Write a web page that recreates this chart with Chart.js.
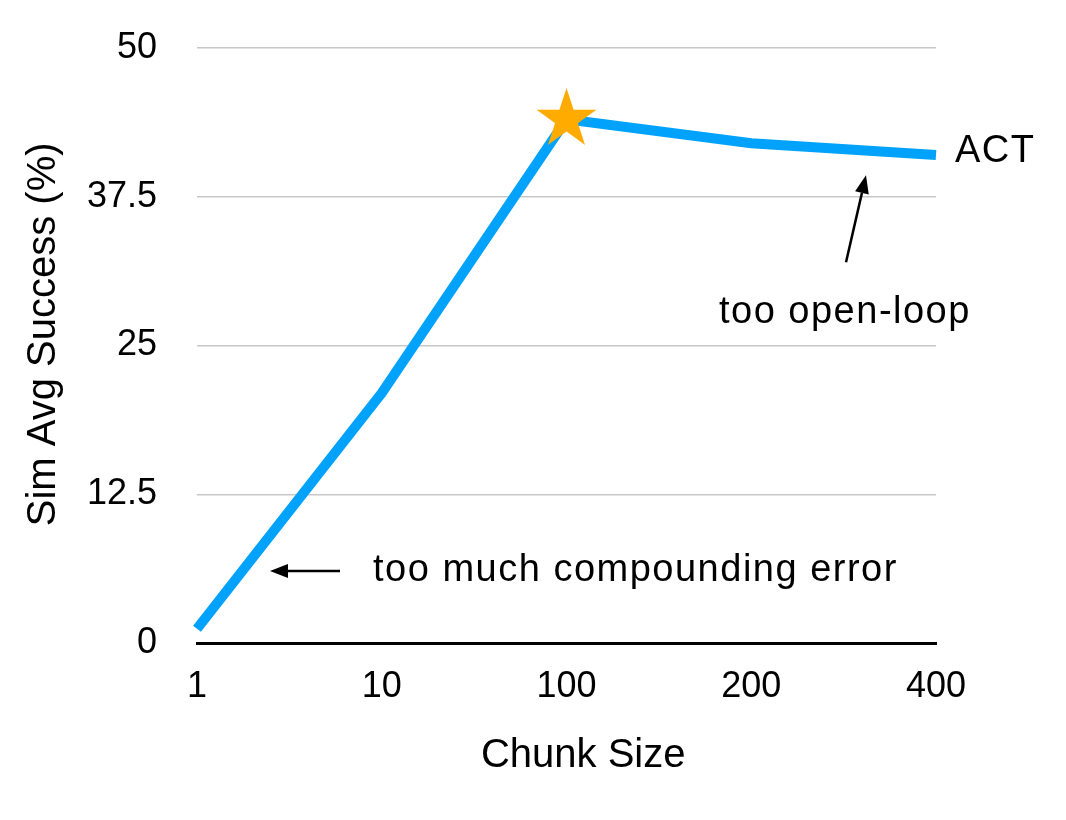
<!DOCTYPE html>
<html>
<head>
  <meta charset="utf-8">
  <title>Chunk Size vs Sim Avg Success</title>
  <script src="https://cdn.jsdelivr.net/npm/chart.js"></script>
  <style>
    body { margin: 0; background: #ffffff; }
    #wrap { width: 1066px; height: 820px; }
  </style>
</head>
<body>
  <div id="wrap"><canvas id="chunkChart" width="1066" height="820"></canvas></div>

  <script>
    // data
    const chunkSizes = ['1', '10', '100', '200', '400'];
    const successRate = [1.2, 21, 44, 42, 41];
    const bestPoint = [null, null, 44, null, null];
    const yTicks = [0, 12.5, 25, 37.5, 50];

    // annotation text and arrows, in data units (x = category index, y = value)
    const notes = [
      { text: 'too much compounding error', x: 0.953, y: 6.05, align: 'left' },
      { text: 'too open-loop', x: 3.507, y: 27.8, align: 'center' },
      { text: 'ACT', x: 4.103, y: 41.3, align: 'left' }
    ];
    const arrows = [
      { from: [0.774, 6.05], to: [0.395, 6.05] },
      { from: [3.513, 32.0], to: [3.621, 39.3] }
    ];

    const FONT = '"Liberation Sans", Arial, Helvetica, sans-serif';
    const BLUE = '#00a2fc';
    const ORANGE = '#ffab00';

    // filled star used as the point style of the best chunk size
    function makeStar(R) {
      const c = document.createElement('canvas');
      c.width = c.height = Math.ceil(R * 2 + 2);
      const g = c.getContext('2d');
      const cx = c.width / 2, cy = c.height / 2;
      const r = R * 0.382;
      g.beginPath();
      for (let i = 0; i < 10; i++) {
        const rad = i % 2 === 0 ? R : r;
        const a = -Math.PI / 2 + i * Math.PI / 5;
        g.lineTo(cx + rad * Math.cos(a), cy + rad * Math.sin(a));
      }
      g.closePath();
      g.fillStyle = ORANGE;
      g.fill();
      return c;
    }
    const star = makeStar(31.5);

    const notesPlugin = {
      id: 'notes',
      afterDatasetsDraw(chart) {
        const { ctx, scales: { x, y } } = chart;
        ctx.save();
        ctx.strokeStyle = '#000';
        ctx.fillStyle = '#000';
        ctx.lineWidth = 2.5;
        arrows.forEach(a => {
          const x1 = x.getPixelForValue(a.from[0]), y1 = y.getPixelForValue(a.from[1]);
          const x2 = x.getPixelForValue(a.to[0]), y2 = y.getPixelForValue(a.to[1]);
          const ang = Math.atan2(y2 - y1, x2 - x1);
          const len = 18, half = 7;
          const bx = x2 - len * Math.cos(ang), by = y2 - len * Math.sin(ang);
          ctx.beginPath();
          ctx.moveTo(x1, y1);
          ctx.lineTo(bx, by);
          ctx.stroke();
          ctx.beginPath();
          ctx.moveTo(x2, y2);
          ctx.lineTo(bx + half * Math.sin(ang), by - half * Math.cos(ang));
          ctx.lineTo(bx - half * Math.sin(ang), by + half * Math.cos(ang));
          ctx.closePath();
          ctx.fill();
        });
        ctx.font = '38px ' + FONT;
        ctx.letterSpacing = '1.5px';
        ctx.textBaseline = 'middle';
        notes.forEach(n => {
          ctx.textAlign = n.align;
          ctx.fillText(n.text, x.getPixelForValue(n.x), y.getPixelForValue(n.y));
        });
        ctx.restore();
      }
    };

    new Chart(document.getElementById('chunkChart'), {
      type: 'line',
      data: {
        labels: chunkSizes,
        datasets: [
          {
            label: 'best',
            data: bestPoint,
            pointStyle: star,
            pointRadius: 32,
            showLine: false
          },
          {
            label: 'ACT',
            data: successRate,
            borderColor: BLUE,
            borderWidth: 10,
            pointRadius: 0,
            tension: 0
          }
        ]
      },
      options: {
        responsive: false,
        animation: false,
        events: [],
        layout: { padding: { top: 48, right: 130, bottom: 0, left: 0 } },
        plugins: {
          legend: { display: false },
          tooltip: { enabled: false }
        },
        scales: {
          x: {
            type: 'category',
            offset: false,
            grid: { display: false, drawTicks: false },
            border: { display: true, color: '#000', width: 3 },
            ticks: { color: '#000', padding: 22, font: { family: FONT, size: 36 }, maxRotation: 0 },
            title: {
              display: true,
              text: '   Chunk Size',
              color: '#000',
              font: { family: FONT, size: 40 },
              padding: { top: 0, bottom: 40 }
            },
            afterFit(scale) {
              scale.height = 177;
              scale.paddingLeft = 0;
              scale.paddingRight = 0;
            }
          },
          y: {
            min: 0,
            max: 50,
            afterBuildTicks(scale) { scale.ticks = yTicks.map(v => ({ value: v })); },
            grid: { color: '#c8c8c8', lineWidth: 1.5, drawTicks: false },
            border: { display: false },
            ticks: { color: '#000', padding: 40, font: { family: FONT, size: 36 } },
            title: {
              display: true,
              text: '  Sim Avg Success (%)',
              color: '#000',
              font: { family: FONT, size: 40 },
              padding: { top: 20, bottom: 0 }
            },
            afterFit(scale) {
              scale.width = 197;
              scale.paddingTop = 0;
              scale.paddingBottom = 0;
            }
          }
        }
      },
      plugins: [notesPlugin]
    });
  </script>
</body>
</html>
